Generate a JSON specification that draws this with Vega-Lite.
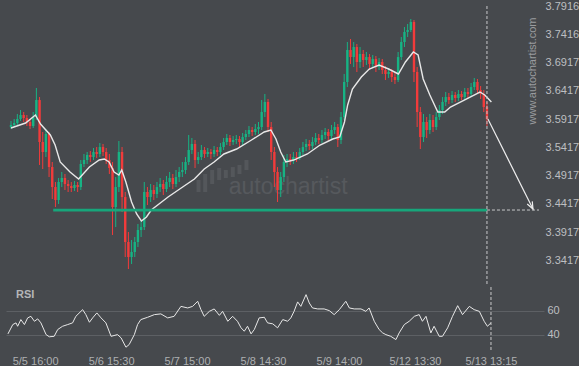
{
  "$schema": "https://vega.github.io/schema/vega-lite/v6.json",
  "background": "#46494d",
  "padding": {"left": 5, "top": 0, "right": 0, "bottom": 0},
  "spacing": 0,
  "config": {
    "view": {"stroke": null},
    "axis": {"labelFont": "Liberation Sans", "labelFontSize": 11, "labelColor": "#bdbfc1", "domain": false, "ticks": false, "labelOverlap": false, "labelFlush": false},
    "text": {"font": "Liberation Sans"}
  },
  "datasets": {
    "candles": [
      {"t":0,"o":3.5779,"h":3.5886,"l":3.5744,"c":3.5815},
      {"t":1,"o":3.5815,"h":3.5921,"l":3.5779,"c":3.5850},
      {"t":2,"o":3.5850,"h":3.6010,"l":3.5815,"c":3.5921},
      {"t":3,"o":3.5921,"h":3.6080,"l":3.5886,"c":3.5992},
      {"t":4,"o":3.5992,"h":3.6045,"l":3.5868,"c":3.5939},
      {"t":5,"o":3.5939,"h":3.5992,"l":3.5797,"c":3.5868},
      {"t":6,"o":3.5868,"h":3.5921,"l":3.5744,"c":3.5797},
      {"t":7,"o":3.5797,"h":3.6045,"l":3.5762,"c":3.5956},
      {"t":8,"o":3.5956,"h":3.6470,"l":3.5903,"c":3.6257},
      {"t":9,"o":3.6257,"h":3.6310,"l":3.5107,"c":3.5514},
      {"t":10,"o":3.5514,"h":3.5691,"l":3.5036,"c":3.5337},
      {"t":11,"o":3.5337,"h":3.5744,"l":3.5248,"c":3.5656},
      {"t":12,"o":3.5656,"h":3.5691,"l":3.4894,"c":3.5071},
      {"t":13,"o":3.5071,"h":3.5160,"l":3.4505,"c":3.4717},
      {"t":14,"o":3.4717,"h":3.4806,"l":3.4363,"c":3.4487},
      {"t":15,"o":3.4487,"h":3.4877,"l":3.4417,"c":3.4806},
      {"t":16,"o":3.4806,"h":3.4983,"l":3.4717,"c":3.4877},
      {"t":17,"o":3.4877,"h":3.4948,"l":3.4664,"c":3.4771},
      {"t":18,"o":3.4771,"h":3.4841,"l":3.4629,"c":3.4735},
      {"t":19,"o":3.4735,"h":3.4806,"l":3.4629,"c":3.4700},
      {"t":20,"o":3.4700,"h":3.4824,"l":3.4647,"c":3.4753},
      {"t":21,"o":3.4753,"h":3.4806,"l":3.4629,"c":3.4717},
      {"t":22,"o":3.4717,"h":3.5195,"l":3.4664,"c":3.5125},
      {"t":23,"o":3.5125,"h":3.5302,"l":3.5071,"c":3.5195},
      {"t":24,"o":3.5195,"h":3.5337,"l":3.5125,"c":3.5284},
      {"t":25,"o":3.5284,"h":3.5355,"l":3.5160,"c":3.5248},
      {"t":26,"o":3.5248,"h":3.5408,"l":3.5195,"c":3.5337},
      {"t":27,"o":3.5337,"h":3.5425,"l":3.5231,"c":3.5302},
      {"t":28,"o":3.5302,"h":3.5496,"l":3.5248,"c":3.5425},
      {"t":29,"o":3.5425,"h":3.5479,"l":3.5266,"c":3.5337},
      {"t":30,"o":3.5337,"h":3.5408,"l":3.5125,"c":3.5195},
      {"t":31,"o":3.5195,"h":3.5302,"l":3.4948,"c":3.5054},
      {"t":32,"o":3.5054,"h":3.5160,"l":3.3868,"c":3.4363},
      {"t":33,"o":3.4363,"h":3.4894,"l":3.4009,"c":3.4717},
      {"t":34,"o":3.4717,"h":3.5532,"l":3.4629,"c":3.5337},
      {"t":35,"o":3.5337,"h":3.5425,"l":3.4275,"c":3.4540},
      {"t":36,"o":3.4540,"h":3.4629,"l":3.3478,"c":3.3744},
      {"t":37,"o":3.3744,"h":3.3921,"l":3.3266,"c":3.3478},
      {"t":38,"o":3.3478,"h":3.3779,"l":3.3355,"c":3.3567},
      {"t":39,"o":3.3567,"h":3.3832,"l":3.3478,"c":3.3744},
      {"t":40,"o":3.3744,"h":3.4063,"l":3.3655,"c":3.3956},
      {"t":41,"o":3.3956,"h":3.4133,"l":3.3832,"c":3.4009},
      {"t":42,"o":3.4009,"h":3.4806,"l":3.3956,"c":3.4629},
      {"t":43,"o":3.4629,"h":3.4717,"l":3.4399,"c":3.4540},
      {"t":44,"o":3.4540,"h":3.4771,"l":3.4452,"c":3.4664},
      {"t":45,"o":3.4664,"h":3.4753,"l":3.4487,"c":3.4594},
      {"t":46,"o":3.4594,"h":3.4806,"l":3.4523,"c":3.4717},
      {"t":47,"o":3.4717,"h":3.4877,"l":3.4629,"c":3.4771},
      {"t":48,"o":3.4771,"h":3.4841,"l":3.4576,"c":3.4682},
      {"t":49,"o":3.4682,"h":3.4912,"l":3.4629,"c":3.4806},
      {"t":50,"o":3.4806,"h":3.4983,"l":3.4717,"c":3.4877},
      {"t":51,"o":3.4877,"h":3.4948,"l":3.4682,"c":3.4771},
      {"t":52,"o":3.4771,"h":3.5018,"l":3.4717,"c":3.4894},
      {"t":53,"o":3.4894,"h":3.5071,"l":3.4806,"c":3.4983},
      {"t":54,"o":3.4983,"h":3.5160,"l":3.4894,"c":3.5018},
      {"t":55,"o":3.5018,"h":3.5248,"l":3.4948,"c":3.5160},
      {"t":56,"o":3.5160,"h":3.5638,"l":3.5107,"c":3.5372},
      {"t":57,"o":3.5372,"h":3.5585,"l":3.5302,"c":3.5479},
      {"t":58,"o":3.5479,"h":3.5549,"l":3.5054,"c":3.5195},
      {"t":59,"o":3.5195,"h":3.5337,"l":3.5125,"c":3.5248},
      {"t":60,"o":3.5248,"h":3.5461,"l":3.5195,"c":3.5372},
      {"t":61,"o":3.5372,"h":3.5425,"l":3.5231,"c":3.5302},
      {"t":62,"o":3.5302,"h":3.5408,"l":3.5248,"c":3.5337},
      {"t":63,"o":3.5337,"h":3.5390,"l":3.5213,"c":3.5302},
      {"t":64,"o":3.5302,"h":3.5443,"l":3.5248,"c":3.5372},
      {"t":65,"o":3.5372,"h":3.5425,"l":3.5266,"c":3.5337},
      {"t":66,"o":3.5337,"h":3.5496,"l":3.5284,"c":3.5425},
      {"t":67,"o":3.5425,"h":3.5585,"l":3.5372,"c":3.5514},
      {"t":68,"o":3.5514,"h":3.5656,"l":3.5461,"c":3.5585},
      {"t":69,"o":3.5585,"h":3.5638,"l":3.5443,"c":3.5514},
      {"t":70,"o":3.5514,"h":3.5620,"l":3.5461,"c":3.5549},
      {"t":71,"o":3.5549,"h":3.5638,"l":3.5479,"c":3.5567},
      {"t":72,"o":3.5567,"h":3.5620,"l":3.5425,"c":3.5514},
      {"t":73,"o":3.5514,"h":3.5673,"l":3.5461,"c":3.5602},
      {"t":74,"o":3.5602,"h":3.5726,"l":3.5549,"c":3.5656},
      {"t":75,"o":3.5656,"h":3.5797,"l":3.5602,"c":3.5726},
      {"t":76,"o":3.5726,"h":3.5779,"l":3.5620,"c":3.5691},
      {"t":77,"o":3.5691,"h":3.5833,"l":3.5638,"c":3.5744},
      {"t":78,"o":3.5744,"h":3.5868,"l":3.5656,"c":3.5779},
      {"t":79,"o":3.5779,"h":3.6257,"l":3.5726,"c":3.6045},
      {"t":80,"o":3.6045,"h":3.6364,"l":3.5956,"c":3.6222},
      {"t":81,"o":3.6222,"h":3.6275,"l":3.5691,"c":3.5779},
      {"t":82,"o":3.5779,"h":3.5868,"l":3.5195,"c":3.5337},
      {"t":83,"o":3.5337,"h":3.5425,"l":3.4717,"c":3.4983},
      {"t":84,"o":3.4983,"h":3.5071,"l":3.4452,"c":3.4664},
      {"t":85,"o":3.4664,"h":3.4983,"l":3.4540,"c":3.4894},
      {"t":86,"o":3.4894,"h":3.5284,"l":3.4806,"c":3.5160},
      {"t":87,"o":3.5160,"h":3.5302,"l":3.5071,"c":3.5213},
      {"t":88,"o":3.5213,"h":3.5302,"l":3.5107,"c":3.5195},
      {"t":89,"o":3.5195,"h":3.5337,"l":3.5125,"c":3.5248},
      {"t":90,"o":3.5248,"h":3.5337,"l":3.5160,"c":3.5231},
      {"t":91,"o":3.5231,"h":3.5408,"l":3.5195,"c":3.5337},
      {"t":92,"o":3.5337,"h":3.5514,"l":3.5284,"c":3.5425},
      {"t":93,"o":3.5425,"h":3.5567,"l":3.5355,"c":3.5479},
      {"t":94,"o":3.5479,"h":3.5549,"l":3.5372,"c":3.5443},
      {"t":95,"o":3.5443,"h":3.5602,"l":3.5390,"c":3.5514},
      {"t":96,"o":3.5514,"h":3.5673,"l":3.5461,"c":3.5585},
      {"t":97,"o":3.5585,"h":3.5656,"l":3.5479,"c":3.5549},
      {"t":98,"o":3.5549,"h":3.5726,"l":3.5496,"c":3.5638},
      {"t":99,"o":3.5638,"h":3.5762,"l":3.5567,"c":3.5691},
      {"t":100,"o":3.5691,"h":3.5744,"l":3.5532,"c":3.5620},
      {"t":101,"o":3.5620,"h":3.5815,"l":3.5567,"c":3.5726},
      {"t":102,"o":3.5726,"h":3.5868,"l":3.5656,"c":3.5779},
      {"t":103,"o":3.5779,"h":3.5833,"l":3.5425,"c":3.5549},
      {"t":104,"o":3.5549,"h":3.6045,"l":3.5479,"c":3.5956},
      {"t":105,"o":3.5956,"h":3.6718,"l":3.5903,"c":3.6576},
      {"t":106,"o":3.6576,"h":3.7284,"l":3.6487,"c":3.7142},
      {"t":107,"o":3.7142,"h":3.7337,"l":3.6895,"c":3.7018},
      {"t":108,"o":3.7018,"h":3.7284,"l":3.6841,"c":3.7195},
      {"t":109,"o":3.7195,"h":3.7249,"l":3.6753,"c":3.6930},
      {"t":110,"o":3.6930,"h":3.7195,"l":3.6824,"c":3.7072},
      {"t":111,"o":3.7072,"h":3.7142,"l":3.6841,"c":3.6965},
      {"t":112,"o":3.6965,"h":3.7107,"l":3.6877,"c":3.7018},
      {"t":113,"o":3.7018,"h":3.7072,"l":3.6788,"c":3.6895},
      {"t":114,"o":3.6895,"h":3.7054,"l":3.6824,"c":3.6983},
      {"t":115,"o":3.6983,"h":3.7036,"l":3.6753,"c":3.6841},
      {"t":116,"o":3.6841,"h":3.7001,"l":3.6788,"c":3.6930},
      {"t":117,"o":3.6930,"h":3.6983,"l":3.6718,"c":3.6788},
      {"t":118,"o":3.6788,"h":3.6859,"l":3.6611,"c":3.6718},
      {"t":119,"o":3.6718,"h":3.6824,"l":3.6647,"c":3.6753},
      {"t":120,"o":3.6753,"h":3.6806,"l":3.6576,"c":3.6664},
      {"t":121,"o":3.6664,"h":3.6753,"l":3.6541,"c":3.6611},
      {"t":122,"o":3.6611,"h":3.7107,"l":3.6576,"c":3.7018},
      {"t":123,"o":3.7018,"h":3.7372,"l":3.6965,"c":3.7284},
      {"t":124,"o":3.7284,"h":3.7549,"l":3.7195,"c":3.7461},
      {"t":125,"o":3.7461,"h":3.7603,"l":3.7372,"c":3.7496},
      {"t":126,"o":3.7496,"h":3.7691,"l":3.7461,"c":3.7638},
      {"t":127,"o":3.7638,"h":3.7673,"l":3.6576,"c":3.6753},
      {"t":128,"o":3.6753,"h":3.6841,"l":3.5779,"c":3.6045},
      {"t":129,"o":3.6045,"h":3.6133,"l":3.5390,"c":3.5602},
      {"t":130,"o":3.5602,"h":3.6010,"l":3.5514,"c":3.5868},
      {"t":131,"o":3.5868,"h":3.5956,"l":3.5585,"c":3.5726},
      {"t":132,"o":3.5726,"h":3.6010,"l":3.5656,"c":3.5903},
      {"t":133,"o":3.5903,"h":3.5992,"l":3.5691,"c":3.5779},
      {"t":134,"o":3.5779,"h":3.6045,"l":3.5726,"c":3.5956},
      {"t":135,"o":3.5956,"h":3.6169,"l":3.5903,"c":3.6080},
      {"t":136,"o":3.6080,"h":3.6310,"l":3.6010,"c":3.6222},
      {"t":137,"o":3.6222,"h":3.6399,"l":3.6151,"c":3.6310},
      {"t":138,"o":3.6310,"h":3.6381,"l":3.6187,"c":3.6257},
      {"t":139,"o":3.6257,"h":3.6417,"l":3.6204,"c":3.6346},
      {"t":140,"o":3.6346,"h":3.6399,"l":3.6222,"c":3.6293},
      {"t":141,"o":3.6293,"h":3.6434,"l":3.6240,"c":3.6364},
      {"t":142,"o":3.6364,"h":3.6417,"l":3.6257,"c":3.6310},
      {"t":143,"o":3.6310,"h":3.6470,"l":3.6257,"c":3.6399},
      {"t":144,"o":3.6399,"h":3.6470,"l":3.6293,"c":3.6364},
      {"t":145,"o":3.6364,"h":3.6558,"l":3.6310,"c":3.6487},
      {"t":146,"o":3.6487,"h":3.6647,"l":3.6434,"c":3.6576},
      {"t":147,"o":3.6576,"h":3.6629,"l":3.6364,"c":3.6434},
      {"t":148,"o":3.6434,"h":3.6505,"l":3.6275,"c":3.6364},
      {"t":149,"o":3.6364,"h":3.6434,"l":3.6045,"c":3.6133},
      {"t":150,"o":3.6133,"h":3.6222,"l":3.5797,"c":3.5921}
    ],
    "ma": [
      {"t":0,"p":3.5762},{"t":4.6,"p":3.5850},{"t":7.7,"p":3.5992},{"t":9.3,"p":3.5833},
      {"t":12.4,"p":3.5638},{"t":13.9,"p":3.5461},{"t":15.5,"p":3.5160},{"t":18.6,"p":3.4983},
      {"t":21.3,"p":3.4859},{"t":24.7,"p":3.5071},{"t":27.8,"p":3.5195},{"t":29.4,"p":3.5213},
      {"t":30.9,"p":3.5160},{"t":32.5,"p":3.4983},{"t":34,"p":3.4930},{"t":34.9,"p":3.5018},
      {"t":36.2,"p":3.4806},{"t":38,"p":3.4452},{"t":39.6,"p":3.4240},{"t":41.1,"p":3.4116},
      {"t":42.7,"p":3.4187},{"t":44.2,"p":3.4310},{"t":49.5,"p":3.4540},{"t":54.1,"p":3.4717},
      {"t":57.8,"p":3.4859},{"t":60.9,"p":3.5036},{"t":64,"p":3.5160},{"t":67.1,"p":3.5302},
      {"t":71.1,"p":3.5390},{"t":75.8,"p":3.5549},{"t":79.8,"p":3.5691},{"t":81.9,"p":3.5726},
      {"t":83.5,"p":3.5567},{"t":85,"p":3.5337},{"t":86.6,"p":3.5160},{"t":89.1,"p":3.5195},
      {"t":93.4,"p":3.5302},{"t":97.4,"p":3.5461},{"t":101.4,"p":3.5567},{"t":103.6,"p":3.5602},
      {"t":105.1,"p":3.5868},{"t":106.1,"p":3.6169},{"t":107.6,"p":3.6452},{"t":110.4,"p":3.6664},
      {"t":112.9,"p":3.6806},{"t":116,"p":3.6877},{"t":119,"p":3.6806},{"t":122.1,"p":3.6718},
      {"t":124.3,"p":3.6930},{"t":126.8,"p":3.7107},{"t":128.3,"p":3.7054},{"t":129.9,"p":3.6629},
      {"t":132,"p":3.6346},{"t":134.5,"p":3.6045},{"t":136.7,"p":3.6045},{"t":138.5,"p":3.6133},
      {"t":141.6,"p":3.6222},{"t":144.7,"p":3.6310},{"t":147.8,"p":3.6399},{"t":149.3,"p":3.6346},
      {"t":151.4,"p":3.6222}
    ],
    "rsi": [
      {"t":0.6,"r":40.8},{"t":2.1,"r":48.5},{"t":3.1,"r":49.9},{"t":3.6,"r":47.1},{"t":4.6,"r":52.6},
      {"t":5.7,"r":48.5},{"t":6.7,"r":54.0},{"t":7.7,"r":55.3},{"t":8.8,"r":51.2},{"t":9.8,"r":53.2},
      {"t":10.8,"r":49.9},{"t":12.4,"r":40.2},{"t":13.4,"r":38.4},{"t":14.9,"r":38.8},{"t":16,"r":44.4},
      {"t":17.5,"r":47.1},{"t":19.1,"r":48.5},{"t":20.6,"r":49.9},{"t":21.6,"r":55.3},{"t":23.7,"r":60.8},
      {"t":24.7,"r":56.7},{"t":25.8,"r":50.4},{"t":26.8,"r":54.0},{"t":28.1,"r":58.1},{"t":29.4,"r":54.0},
      {"t":30.9,"r":49.9},{"t":32.5,"r":38.8},{"t":34.5,"r":40.2},{"t":35.6,"r":37.5},{"t":37.1,"r":29.8},
      {"t":38.1,"r":32.0},{"t":39.7,"r":40.2},{"t":40.7,"r":48.5},{"t":41.7,"r":52.6},{"t":43.8,"r":54.5},
      {"t":45.9,"r":56.7},{"t":47.9,"r":57.3},{"t":50,"r":54.0},{"t":52,"r":55.3},{"t":54.1,"r":63.5},
      {"t":56.2,"r":62.2},{"t":57.7,"r":63.5},{"t":59.3,"r":67.7},{"t":60.3,"r":60.8},{"t":61.3,"r":55.3},
      {"t":62.9,"r":59.4},{"t":64.4,"r":61.4},{"t":66,"r":56.1},{"t":67,"r":59.4},{"t":68.6,"r":51.2},
      {"t":70.1,"r":55.3},{"t":71.6,"r":51.2},{"t":72.7,"r":45.8},{"t":73.7,"r":43.0},{"t":74.7,"r":47.1},
      {"t":75.8,"r":40.8},{"t":76.8,"r":44.4},{"t":78.3,"r":54.0},{"t":79.9,"r":54.5},{"t":80.9,"r":49.9},
      {"t":82.5,"r":49.1},{"t":84,"r":45.8},{"t":85.6,"r":52.6},{"t":87.1,"r":51.2},{"t":88.1,"r":54.0},
      {"t":89.1,"r":59.4},{"t":90.2,"r":67.2},{"t":91.2,"r":63.5},{"t":92.8,"r":73.2},{"t":93.8,"r":66.3},
      {"t":94.8,"r":62.2},{"t":96.4,"r":61.4},{"t":98.4,"r":61.4},{"t":100,"r":60.0},{"t":101.5,"r":56.7},
      {"t":103.1,"r":60.8},{"t":105.1,"r":67.7},{"t":106.2,"r":62.2},{"t":107.7,"r":61.4},{"t":109.8,"r":61.4},
      {"t":111.3,"r":59.4},{"t":112.3,"r":62.2},{"t":113.9,"r":51.2},{"t":115.4,"r":44.4},{"t":116.5,"r":41.6},
      {"t":117.5,"r":40.2},{"t":119,"r":38.8},{"t":120.6,"r":36.1},{"t":121.6,"r":41.6},{"t":123.2,"r":48.5},
      {"t":124.7,"r":51.2},{"t":126.3,"r":55.3},{"t":127.8,"r":56.7},{"t":128.8,"r":51.2},{"t":129.9,"r":55.3},
      {"t":131.4,"r":41.6},{"t":132.4,"r":47.1},{"t":134,"r":38.8},{"t":135,"r":38.8},{"t":136.6,"r":45.8},
      {"t":138.1,"r":55.3},{"t":139.7,"r":64.1},{"t":141.2,"r":56.7},{"t":143.3,"r":63.5},{"t":144.8,"r":60.8},
      {"t":146.4,"r":59.4},{"t":147.9,"r":51.2},{"t":148.9,"r":47.1},{"t":150,"r":49.9}
    ],
    "logobars": [
      {"t":59.1,"p1":3.4629,"p2":3.4841},{"t":61.2,"p1":3.4629,"p2":3.4948},
      {"t":63.4,"p1":3.4771,"p2":3.5018},{"t":65.6,"p1":3.4841,"p2":3.5054},
      {"t":67.7,"p1":3.4877,"p2":3.5018},{"t":69.9,"p1":3.4894,"p2":3.5071},
      {"t":72.0,"p1":3.4948,"p2":3.5107},{"t":74.2,"p1":3.5018,"p2":3.5195}
    ],
    "logo": [{"t":68.6,"p":3.4717,"label":"autochartist"}],
    "site": [{"t":164.5,"p":3.6771,"label":"www.autochartist.com"}],
    "level": [{"t":13.3,"t2":150,"p":3.4310}],
    "proj": [{"t":150,"t2":166.4,"p":3.4310}],
    "vline": [{"t":150,"p":3.7921,"p2":3.2983}],
    "arrow": [{"t":150.3,"p":3.5921},{"t":164.5,"p":3.4328}],
    "tip": [{"t":164.5,"p":3.4328}],
    "rsilabel": [{"t":3.1,"r":72.5,"label":"RSI"}],
    "now": [{"t":150}]
  },
  "vconcat": [
    {
      "width": 538,
      "height": 283,
      "layer": [
        {
          "data": {"name": "logobars"},
          "mark": {"type": "bar", "size": 4, "color": "#54575b"},
          "encoding": {
            "x": {"field": "t", "type": "quantitative", "scale": {"domain": [0, 166.4], "nice": false, "zero": false}, "axis": null},
            "y": {"field": "p1", "type": "quantitative", "scale": {"domain": [3.2983, 3.7992], "nice": false, "zero": false}, "title": null,
                  "axis": {"orient": "right", "values": [3.3417, 3.3917, 3.4417, 3.4917, 3.5417, 3.5917, 3.6417, 3.6917, 3.7416, 3.7916], "tickCount": 20, "format": ".4f", "grid": false, "labelPadding": 1, "labelFlush": false, "labelOverlap": false, "title": null}},
            "y2": {"field": "p2"}
          }
        },
        {
          "data": {"name": "logo"},
          "mark": {"type": "text", "align": "left", "baseline": "middle", "fontSize": 23, "font": "Liberation Sans", "color": "#56595d"},
          "encoding": {
            "x": {"field": "t", "type": "quantitative", "axis": null},
            "y": {"field": "p", "type": "quantitative", "title": null},
            "text": {"field": "label"}
          }
        },
        {
          "data": {"name": "candles"},
          "mark": {"type": "rule", "strokeWidth": 1},
          "encoding": {
            "x": {"field": "t", "type": "quantitative", "axis": null},
            "y": {"field": "l", "type": "quantitative", "title": null},
            "y2": {"field": "h"},
            "color": {"condition": {"test": "datum.c > datum.o", "value": "#17b384"}, "value": "#f23b3b"}
          }
        },
        {
          "data": {"name": "candles"},
          "mark": {"type": "bar", "size": 2.4},
          "encoding": {
            "x": {"field": "t", "type": "quantitative", "axis": null},
            "y": {"field": "o", "type": "quantitative", "title": null},
            "y2": {"field": "c"},
            "color": {"condition": {"test": "datum.c > datum.o", "value": "#17b384"}, "value": "#f23b3b"}
          }
        },
        {
          "data": {"name": "ma"},
          "mark": {"type": "line", "color": "#e8e8e8", "strokeWidth": 1.4},
          "encoding": {
            "x": {"field": "t", "type": "quantitative", "axis": null},
            "y": {"field": "p", "type": "quantitative", "title": null}
          }
        },
        {
          "data": {"name": "level"},
          "mark": {"type": "rule", "color": "#17a67b", "strokeWidth": 2.8},
          "encoding": {
            "x": {"field": "t", "type": "quantitative", "axis": null},
            "x2": {"field": "t2"},
            "y": {"field": "p", "type": "quantitative", "title": null}
          }
        },
        {
          "data": {"name": "proj"},
          "mark": {"type": "rule", "color": "#c8c9ca", "strokeWidth": 1, "strokeDash": [3, 2]},
          "encoding": {
            "x": {"field": "t", "type": "quantitative", "axis": null},
            "x2": {"field": "t2"},
            "y": {"field": "p", "type": "quantitative", "title": null}
          }
        },
        {
          "data": {"name": "vline"},
          "mark": {"type": "rule", "color": "#c8c9ca", "strokeWidth": 1, "strokeDash": [3, 2]},
          "encoding": {
            "x": {"field": "t", "type": "quantitative", "axis": null},
            "y": {"field": "p", "type": "quantitative", "title": null},
            "y2": {"field": "p2"}
          }
        },
        {
          "data": {"name": "arrow"},
          "mark": {"type": "line", "color": "#eeeeee", "strokeWidth": 1.2},
          "encoding": {
            "x": {"field": "t", "type": "quantitative", "axis": null},
            "y": {"field": "p", "type": "quantitative", "title": null}
          }
        },
        {
          "data": {"name": "tip"},
          "mark": {"type": "point", "shape": "M-0.4,-1L0,0L0.4,-1", "size": 200, "filled": false, "stroke": "#eeeeee", "strokeWidth": 1.2, "angle": 333, "opacity": 1},
          "encoding": {
            "x": {"field": "t", "type": "quantitative", "axis": null},
            "y": {"field": "p", "type": "quantitative", "title": null}
          }
        },
        {
          "data": {"name": "site"},
          "mark": {"type": "text", "angle": 270, "align": "center", "baseline": "middle", "fontSize": 11, "font": "Liberation Sans", "color": "#9a9c9f"},
          "encoding": {
            "x": {"field": "t", "type": "quantitative", "axis": null},
            "y": {"field": "p", "type": "quantitative", "title": null},
            "text": {"field": "label"}
          }
        }
      ]
    },
    {
      "width": 538,
      "height": 63,
      "layer": [
        {
          "data": {"name": "rsi"},
          "mark": {"type": "line", "color": "#e8e8e8", "strokeWidth": 1},
          "encoding": {
            "x": {"field": "t", "type": "quantitative", "scale": {"domain": [0, 166.4], "nice": false, "zero": false}, "title": null,
                  "axis": {"values": [9, 32.5, 56, 79.5, 103, 126.5, 150], "tickCount": 20, "labelExpr": "datum.value == 9 ? '5/5 16:00' : datum.value == 32.5 ? '5/6 15:30' : datum.value == 56 ? '5/7 15:00' : datum.value == 79.5 ? '5/8 14:30' : datum.value == 103 ? '5/9 14:00' : datum.value == 126.5 ? '5/12 13:30' : '5/13 13:15'", "grid": false, "labelPadding": 5, "labelFlush": false, "labelOverlap": false, "labelColor": "#aeb0b2", "title": null}},
            "y": {"field": "r", "type": "quantitative", "scale": {"domain": [27.5, 79.5], "nice": false, "zero": false}, "title": null,
                  "axis": {"orient": "right", "values": [40, 60], "tickCount": 5, "grid": true, "gridColor": "#5d6064", "gridWidth": 1, "labelPadding": 3, "labelFlush": false, "labelOverlap": false, "title": null}}
          }
        },
        {
          "data": {"name": "rsilabel"},
          "mark": {"type": "text", "align": "left", "baseline": "middle", "fontSize": 11, "fontWeight": "bold", "font": "Liberation Sans", "color": "#b4b6b8"},
          "encoding": {
            "x": {"field": "t", "type": "quantitative", "title": null},
            "y": {"field": "r", "type": "quantitative", "title": null},
            "text": {"field": "label"}
          }
        },
        {
          "data": {"name": "now"},
          "mark": {"type": "rule", "color": "#c8c9ca", "strokeWidth": 1, "strokeDash": [3, 2]},
          "encoding": {
            "x": {"field": "t", "type": "quantitative", "title": null}
          }
        }
      ]
    }
  ]
}
